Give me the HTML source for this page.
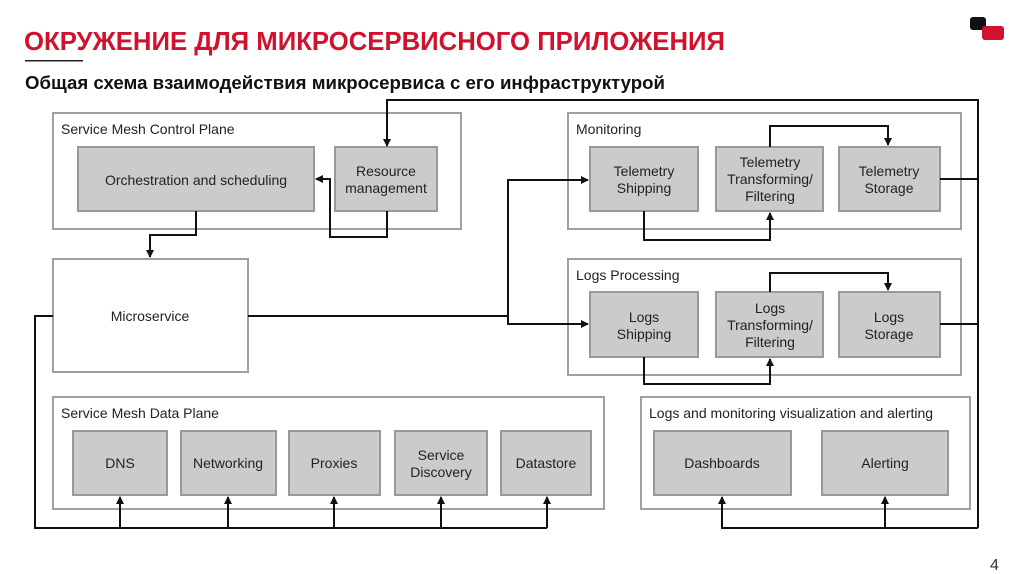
<!DOCTYPE html>
<html><head><meta charset="utf-8"><style>
html,body{margin:0;padding:0;background:#fff;width:1024px;height:574px;overflow:hidden}
svg{display:block}
text{font-family:"Liberation Sans",Arial,sans-serif;fill:#222}
.o{fill:#fff;stroke:#a0a0a0;stroke-width:2}
.b{fill:#cbcbcb;stroke:#999;stroke-width:2}
.l{fill:none;stroke:#111;stroke-width:2}
.t{font-size:14px;text-anchor:middle}
.h{font-size:14px}
</style></head><body>
<svg width="1024" height="574" viewBox="0 0 1024 574">
<defs><marker id="a" markerWidth="8" markerHeight="8" refX="7" refY="4" orient="auto" markerUnits="userSpaceOnUse"><path d="M0,0 L8,4 L0,8 z" fill="#111"/></marker></defs>
<text x="24" y="50" font-size="26" font-weight="bold" style="fill:#d0122e" textLength="701" lengthAdjust="spacingAndGlyphs">ОКРУЖЕНИЕ ДЛЯ МИКРОСЕРВИСНОГО ПРИЛОЖЕНИЯ</text>
<rect x="25" y="60" width="58" height="1.5" fill="#222"/>
<text x="25" y="89" font-size="18" font-weight="bold" style="fill:#111" textLength="640" lengthAdjust="spacingAndGlyphs">Общая схема взаимодействия микросервиса с его инфраструктурой</text>
<rect x="970" y="17" width="16" height="13" rx="3" fill="#111"/>
<rect x="982" y="26" width="22" height="14" rx="3" fill="#d0122e"/>
<text x="990" y="570" font-size="16" style="fill:#333">4</text>

<!-- control plane -->
<rect class="o" x="53" y="113" width="408" height="116"/>
<text class="h" x="61" y="134">Service Mesh Control Plane</text>
<rect class="b" x="78" y="147" width="236" height="64"/>
<text class="t" x="196" y="185">Orchestration and scheduling</text>
<rect class="b" x="335" y="147" width="102" height="64"/>
<text class="t" x="386" y="176">Resource</text><text class="t" x="386" y="193">management</text>

<rect class="o" x="53" y="259" width="195" height="113"/>
<text class="t" x="150" y="321">Microservice</text>

<!-- monitoring -->
<rect class="o" x="568" y="113" width="393" height="116"/>
<text class="h" x="576" y="134">Monitoring</text>
<rect class="b" x="590" y="147" width="108" height="64"/>
<text class="t" x="644" y="176">Telemetry</text><text class="t" x="644" y="193">Shipping</text>
<rect class="b" x="716" y="147" width="107" height="64"/>
<text class="t" x="770" y="167">Telemetry</text><text class="t" x="770" y="184">Transforming/</text><text class="t" x="770" y="201">Filtering</text>
<rect class="b" x="839" y="147" width="101" height="64"/>
<text class="t" x="889" y="176">Telemetry</text><text class="t" x="889" y="193">Storage</text>

<!-- logs -->
<rect class="o" x="568" y="259" width="393" height="116"/>
<text class="h" x="576" y="280">Logs Processing</text>
<rect class="b" x="590" y="292" width="108" height="65"/>
<text class="t" x="644" y="322">Logs</text><text class="t" x="644" y="339">Shipping</text>
<rect class="b" x="716" y="292" width="107" height="65"/>
<text class="t" x="770" y="313">Logs</text><text class="t" x="770" y="330">Transforming/</text><text class="t" x="770" y="347">Filtering</text>
<rect class="b" x="839" y="292" width="101" height="65"/>
<text class="t" x="889" y="322">Logs</text><text class="t" x="889" y="339">Storage</text>

<!-- data plane -->
<rect class="o" x="53" y="397" width="551" height="112"/>
<text class="h" x="61" y="418">Service Mesh Data Plane</text>
<rect class="b" x="73" y="431" width="94" height="64"/><text class="t" x="120" y="468">DNS</text>
<rect class="b" x="181" y="431" width="95" height="64"/><text class="t" x="228" y="468">Networking</text>
<rect class="b" x="289" y="431" width="91" height="64"/><text class="t" x="334" y="468">Proxies</text>
<rect class="b" x="395" y="431" width="92" height="64"/><text class="t" x="441" y="460">Service</text><text class="t" x="441" y="477">Discovery</text>
<rect class="b" x="501" y="431" width="90" height="64"/><text class="t" x="546" y="468">Datastore</text>

<rect class="o" x="641" y="397" width="329" height="112"/>
<text class="h" x="649" y="418">Logs and monitoring visualization and alerting</text>
<rect class="b" x="654" y="431" width="137" height="64"/><text class="t" x="722" y="468">Dashboards</text>
<rect class="b" x="822" y="431" width="126" height="64"/><text class="t" x="885" y="468">Alerting</text>

<!-- connectors -->
<path class="l" d="M978,528 V100 H387 V146" marker-end="url(#a)"/>
<path class="l" d="M387,211 V237 H330 V179 H316" marker-end="url(#a)"/>
<path class="l" d="M196,211 V235 H150 V257" marker-end="url(#a)"/>
<path class="l" d="M248,316 H508 V180 H588" marker-end="url(#a)"/>
<path class="l" d="M508,316 V324 H588" marker-end="url(#a)"/>
<path class="l" d="M644,211 V240 H770 V213" marker-end="url(#a)"/>
<path class="l" d="M770,147 V126 H888 V145" marker-end="url(#a)"/>
<path class="l" d="M940,179 H978"/>
<path class="l" d="M644,357 V384 H770 V359" marker-end="url(#a)"/>
<path class="l" d="M770,292 V273 H888 V290" marker-end="url(#a)"/>
<path class="l" d="M940,324 H978"/>
<path class="l" d="M53,316 H35 V528 H547"/>
<path class="l" d="M120,528 V497" marker-end="url(#a)"/>
<path class="l" d="M228,528 V497" marker-end="url(#a)"/>
<path class="l" d="M334,528 V497" marker-end="url(#a)"/>
<path class="l" d="M441,528 V497" marker-end="url(#a)"/>
<path class="l" d="M547,528 V497" marker-end="url(#a)"/>
<path class="l" d="M978,528 H722 V497" marker-end="url(#a)"/>
<path class="l" d="M885,528 V497" marker-end="url(#a)"/>
</svg>
</body></html>
